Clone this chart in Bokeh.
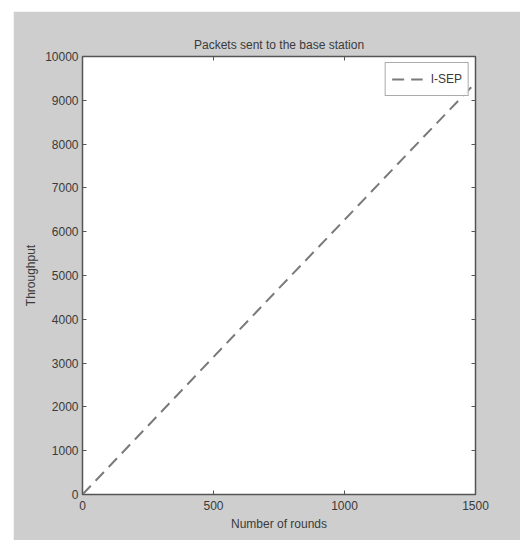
from bokeh.plotting import figure
from bokeh.layouts import column, row
from bokeh.models import Spacer, LinearAxis, FixedTicker, Legend, LegendItem, Range1d
from bokeh.embed import file_html
from bokeh.resources import INLINE

# Throughput (packets delivered to the base station) against round number
rounds = [0, 250, 500, 750, 1000, 1250, 1500]
throughput = [0, 1570, 3140, 4710, 6270, 7840, 9400]
series_name = "I-SEP"

x_ticks = [0, 500, 1000, 1500]
y_ticks = [0, 1000, 2000, 3000, 4000, 5000, 6000, 7000, 8000, 9000, 10000]

BG = "#cecece"
FONT = "Liberation Sans"
INK = "#3a3a3a"

p = figure(
    width=507, height=529,
    output_backend="svg", toolbar_location=None,
    x_range=Range1d(0, 1500), y_range=Range1d(0, 10000),
    min_border_left=69, min_border_right=45,
    min_border_top=45, min_border_bottom=46,
    title="Packets sent to the base station",
)
p.border_fill_color = BG
p.background_fill_color = "white"
p.outline_line_color = "#555555"
p.outline_line_width = 1.5
p.grid.visible = False

p.title.align = "center"
p.title.text_font = FONT
p.title.text_font_size = "12px"
p.title.text_font_style = "normal"
p.title.text_color = INK
p.title.offset = 0

line = p.line(rounds, throughput, line_color="#7a7a7a", line_width=2,
              line_dash="12 7")

def style_axis(ax):
    ax.major_tick_in = 4
    ax.major_tick_out = 0
    ax.minor_tick_in = 0
    ax.minor_tick_out = 0
    ax.axis_line_color = "#555555"
    ax.major_tick_line_color = "#555555"
    ax.major_label_text_font = FONT
    ax.major_label_text_font_size = "12px"
    ax.major_label_text_color = INK
    ax.axis_label_text_font = FONT
    ax.axis_label_text_font_size = "12px"
    ax.axis_label_text_font_style = "normal"
    ax.axis_label_text_color = INK

xa = p.xaxis[0]
xa.ticker = FixedTicker(ticks=x_ticks)
xa.axis_label = "Number of rounds"
xa.major_label_standoff = 6
xa.axis_label_standoff = 4
style_axis(xa)

ya = p.yaxis[0]
ya.ticker = FixedTicker(ticks=y_ticks)
ya.axis_label = "Throughput"
ya.major_label_standoff = 4
ya.axis_label_standoff = 4
style_axis(ya)

# box axes on top and right: inward ticks only, no labels
top = LinearAxis(ticker=FixedTicker(ticks=x_ticks),
                 major_label_overrides={t: "" for t in x_ticks})
style_axis(top)
p.add_layout(top, "above")

right = LinearAxis(ticker=FixedTicker(ticks=y_ticks),
                   major_label_overrides={t: "" for t in y_ticks})
style_axis(right)
p.add_layout(right, "right")

legend = Legend(items=[LegendItem(label=series_name, renderers=[line])],
                location="top_right")
legend.label_text_font = FONT
legend.label_text_font_size = "12px"
legend.label_text_color = INK
legend.border_line_color = "#555555"
legend.border_line_width = 1
legend.glyph_width = 31
legend.glyph_height = 20
legend.margin = 6
legend.padding = 6
legend.spacing = 0
legend.label_standoff = 8
p.add_layout(legend)

layout = column(Spacer(height=11), row(Spacer(width=13), p))

with open("out.html", "w") as f:
    f.write(file_html(layout, INLINE))
